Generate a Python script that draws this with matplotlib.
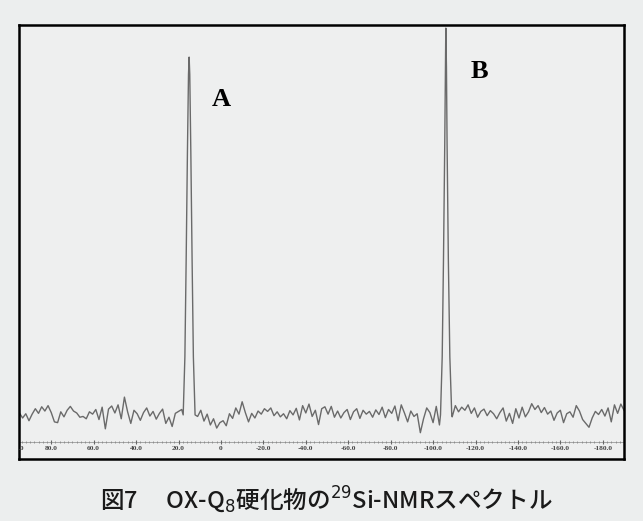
import numpy as np
import matplotlib
matplotlib.use("Agg")
import matplotlib.pyplot as plt

plt.rcParams['font.family'] = ['Noto Sans CJK JP', 'DejaVu Sans']

# baseline noise on a 1.5 ppm grid from 95 to -190 ppm
noise_ppm = np.linspace(95, -190, 191)
noise_val = [
    0.5, -0.8, 0.3, -1.5, 0.2, 1.6, 0.4, 2.1, 1.0, 2.4,
    0.6, -1.8, -2.0, 0.8, -0.5, 1.2, 2.2, 1.0, 0.5, -0.6,
    -0.4, -1.0, 0.8, 0.2, 1.4, -1.2, 2.0, -3.6, 1.5, 2.3,
    0.5, 2.6, -1.0, 4.6, 0.8, -2.2, 1.2, 0.3, -1.4, 0.6,
    1.8, -0.3, 0.9, -1.1, 0.4, 1.5, -2.2, -0.6, -3.0, 0.4,
    0.9, 1.4, 0.0, 0.0, 0.0, 0.0, -0.4, 1.2, -1.6, 0.2,
    -2.6, -1.0, -3.4, -2.0, -1.5, -2.8, 0.3, -0.9, 1.8, 0.2,
    3.4, 0.6, -1.8, 0.4, -0.8, 1.0, 0.2, 1.6, 0.9, 1.8,
    -0.2, 0.8, -0.5, 0.3, -1.0, 1.1, 0.0, 1.7, -1.3, 2.4,
    0.5, 2.8, -0.4, 1.2, -2.5, 1.6, 2.1, 0.2, 2.2, -0.6,
    1.0, -0.8, 0.6, 1.4, -1.2, 0.8, 1.6, -0.9, 1.2, 0.2,
    0.9, -0.6, 1.3, 0.1, 2.0, -0.7, 1.4, 0.4, 2.3, -1.5,
    2.6, 0.5, -1.8, 1.0, -0.4, 0.3, -4.6, -1.0, 1.8, 0.6,
    -2.0, 2.2, -2.6, 0.0, 0.0, 0.0, -0.5, 2.4, 0.8, 2.0,
    1.2, 2.6, 0.4, 1.8, -0.6, 0.9, 1.5, -0.2, 1.1, 0.3,
    -1.0, 0.6, 1.8, -1.6, 0.4, -2.2, 1.6, -0.8, 2.0, -0.5,
    0.8, 2.9, 1.4, 2.4, 0.6, 1.9, 0.2, 1.0, -1.4, 0.5,
    1.2, -2.0, 0.3, 0.8, -0.6, 2.4, 1.0, -1.2, -2.2, -3.2,
    -0.8, 0.9, 0.1, 1.4, -0.3, 1.8, -1.8, 2.6, 0.4, 2.8, 1.2,
]

# peak A (~15 ppm) and peak B (~-106 ppm)
peakA_ppm = [17.8, 17.0, 16.4, 15.8, 15.3, 15.0, 14.7, 14.2, 13.6, 13.0, 12.2]
peakA_val = [0.0, 15, 40, 68, 88, 92.5, 88, 68, 40, 15, 0.0]
peakB_ppm = [-103.5, -104.3, -104.9, -105.5, -105.8, -106.0, -106.3, -106.6, -107.2, -107.9, -108.8]
peakB_val = [0.0, 15, 40, 70, 90, 100, 90, 70, 40, 15, 0.0]

tick_labels = ["80.0", "60.0", "40.0", "20.0", "0", "-20.0", "-40.0", "-60.0",
               "-80.0", "-100.0", "-120.0", "-140.0", "-160.0", "-180.0"]
tick_pos = [80, 60, 40, 20, 0, -20, -40, -60, -80, -100, -120, -140, -160, -180]

# merge noise and peaks
npm = np.array(noise_ppm)
nv = np.array(noise_val)
keep = ~(((npm < 17.8) & (npm > 12.2)) | ((npm < -103.5) & (npm > -108.8)))
x = np.concatenate([npm[keep], peakA_ppm, peakB_ppm])
y = np.concatenate([nv[keep], peakA_val, peakB_val])
order = np.argsort(-x)
x, y = x[order], y[order]

bg = "#eceeee"
fig = plt.figure(figsize=(6.43, 5.21), dpi=100, facecolor=bg)
ax = fig.add_axes([19/643, (521-459)/521, (624-19)/643, (459-25)/521])
ax.set_facecolor("#eeefef")

ax.plot(x, y, color="#6a6a6a", lw=1.0)
ax.set_xlim(95.2, -190)
ax.set_ylim(-11.4, 100.8)

# internal scale with dotted ticks
yl = -7.0
ax.plot([95.2, -190], [yl, yl], color="#999999", lw=0.6)
minor = np.arange(100, -191, -2)
ax.vlines(minor, yl - 0.25, yl + 0.25, color="#888888", lw=0.6)
ax.vlines(tick_pos, yl - 0.5, yl + 0.5, color="#666666", lw=0.8)
for p, lab in zip(tick_pos, tick_labels):
    ax.text(p, -8.7, lab, ha="center", va="center", fontsize=5.3,
            family="Liberation Serif", weight="bold", color="#444444")
# partly cut "100.0" label at the left edge
ax.text(95.2, -8.7, ".0", ha="left", va="center", fontsize=5.3,
        family="Liberation Serif", weight="bold", color="#444444")

ax.text((221-19)/605, 1 - (99-25)/434, "A", transform=ax.transAxes, fontsize=19,
        family="Liberation Serif", weight="bold", ha="center", va="center")
ax.text((479-19)/605, 1 - (71-25)/434, "B", transform=ax.transAxes, fontsize=19,
        family="Liberation Serif", weight="bold", ha="center", va="center")

ax.set_xticks([])
ax.set_yticks([])
for s in ax.spines.values():
    s.set_linewidth(1.8)
    s.set_color("black")

fig.text(326/643, 1 - 500/521, "図7　 OX-Q$_8$硬化物の$^{29}$Si-NMRスペクトル",
         ha="center", va="center", fontsize=17, weight="medium", color="#1a1a1a")

fig.savefig("out.png", dpi=100, facecolor=bg)
